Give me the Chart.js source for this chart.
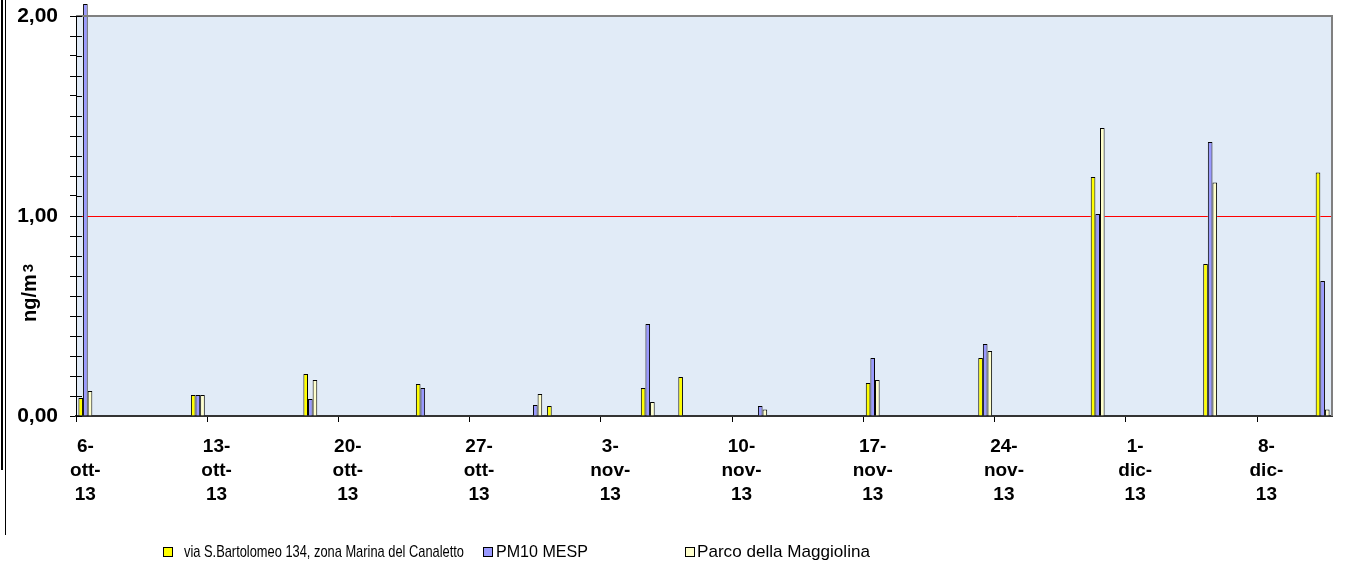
<!DOCTYPE html>
<html>
<head>
<meta charset="utf-8">
<script src="https://cdn.jsdelivr.net/npm/chart.js@4/dist/chart.umd.min.js"></script>
<style>
  html, body { margin: 0; padding: 0; background: #fff; }
  #wrap { position: relative; width: 1364px; height: 561px; overflow: hidden; font-family: "Liberation Sans", Arial, sans-serif; }
  #frameA { position: absolute; left: 1px; top: 0; width: 2px; height: 470px; background: #000; }
  #frameB { position: absolute; left: 5px; top: 0; width: 1px; height: 535px; background: #000; }
  .box { position: absolute; top: 547px; width: 8px; height: 8px; border: 1px solid #000; }
  .txt { position: absolute; top: 542px; font-size: 17px; line-height: 20px; color: #000; white-space: nowrap; transform-origin: 0 50%; }
</style>
</head>
<body>
<div id="wrap">
  <canvas id="c" width="1364" height="561"></canvas>
  <div id="frameA"></div>
  <div id="frameB"></div>
  <div id="legend"></div>
</div>
<script>
// Daily categories of the date axis (6 Oct – 11 Dec 2013)
const categories = [
  '6-ott-13','7-ott-13','8-ott-13','9-ott-13','10-ott-13','11-ott-13','12-ott-13',
  '13-ott-13','14-ott-13','15-ott-13','16-ott-13','17-ott-13','18-ott-13','19-ott-13',
  '20-ott-13','21-ott-13','22-ott-13','23-ott-13','24-ott-13','25-ott-13','26-ott-13',
  '27-ott-13','28-ott-13','29-ott-13','30-ott-13','31-ott-13','1-nov-13','2-nov-13',
  '3-nov-13','4-nov-13','5-nov-13','6-nov-13','7-nov-13','8-nov-13','9-nov-13',
  '10-nov-13','11-nov-13','12-nov-13','13-nov-13','14-nov-13','15-nov-13','16-nov-13',
  '17-nov-13','18-nov-13','19-nov-13','20-nov-13','21-nov-13','22-nov-13','23-nov-13',
  '24-nov-13','25-nov-13','26-nov-13','27-nov-13','28-nov-13','29-nov-13','30-nov-13',
  '1-dic-13','2-dic-13','3-dic-13','4-dic-13','5-dic-13','6-dic-13','7-dic-13',
  '8-dic-13','9-dic-13','10-dic-13','11-dic-13'
];

// Sampling days and measured concentrations (ng/m3); null = no sample
const sampleDates = ['6-ott-13','12-ott-13','18-ott-13','24-ott-13','30-ott-13','31-ott-13','5-nov-13',
                     '7-nov-13','11-nov-13','17-nov-13','23-nov-13','29-nov-13','5-dic-13','11-dic-13'];
const viaBartolomeo   = [0.09, 0.105, 0.21, 0.16, null, 0.05, 0.14, 0.195, null, 0.165, 0.29, 1.195, 0.76, 1.217];
const pm10Mesp        = [2.06, 0.105, 0.085, 0.14, 0.055, null, 0.46, null, 0.05, 0.29, 0.36, 1.01, 1.37, 0.675];
const parcoMaggiolina = [0.125, 0.105, 0.18, null, 0.11, null, 0.07, null, 0.033, 0.18, 0.325, 1.44, 1.167, 0.033];

const seriesNames  = ['via S.Bartolomeo 134, zona Marina del Canaletto', 'PM10 MESP', 'Parco della Maggiolina'];
const seriesColors = ['#FFFF00', '#9999FF', '#FFFFCC'];

// Target value (ng/m3) shown as the red reference line
const targetValue = 1.0;
const yTickValues = [0, 1, 2];

const FONT = '"Liberation Sans", Arial, sans-serif';

function toPoints(values) {
  return sampleDates.map((d, i) => ({ x: d, y: values[i] }));
}

const datasets = [viaBartolomeo, pm10Mesp, parcoMaggiolina].map((vals, k) => ({
  label: seriesNames[k],
  data: toPoints(vals),
  backgroundColor: seriesColors[k],
  borderColor: '#000',
  borderWidth: 1,
  borderSkipped: 'bottom',
  categoryPercentage: 0.74,
  barPercentage: 1.0,
  clip: false
}));

const plotDecor = {
  id: 'plotDecor',
  beforeDraw(chart) {
    const { ctx, chartArea: a } = chart;
    ctx.save();
    ctx.fillStyle = '#e1ebf7';
    ctx.fillRect(a.left, a.top, a.right - a.left, a.bottom - a.top);
    ctx.restore();
  },
  afterDatasetsDraw(chart) {
    // reference line, kept behind the bars by clipping them out
    const { ctx, chartArea: a, scales } = chart;
    const y = Math.round(scales.y.getPixelForValue(targetValue));
    ctx.save();
    ctx.beginPath();
    ctx.rect(a.left, a.top, a.right - a.left, a.bottom - a.top);
    chart.data.datasets.forEach((ds, i) => {
      chart.getDatasetMeta(i).data.forEach(bar => {
        if (bar.skip || bar.y === undefined || isNaN(bar.y)) return;
        const top = Math.min(bar.y, bar.base);
        const h = Math.abs(bar.base - bar.y);
        if (h > 0) ctx.rect(bar.x - bar.width / 2, top, bar.width, h);
      });
    });
    ctx.clip('evenodd');
    ctx.strokeStyle = '#ff0000';
    ctx.lineWidth = 1;
    ctx.beginPath();
    ctx.moveTo(a.left + 1, y + 0.5);
    ctx.lineTo(a.right - 1, y + 0.5);
    ctx.stroke();
    ctx.restore();
  },
  afterDraw(chart) {
    const { ctx, chartArea: a, scales } = chart;
    ctx.save();
    // top and right frame of the plot area
    ctx.strokeStyle = '#808080';
    ctx.lineWidth = 2;
    ctx.beginPath();
    ctx.moveTo(a.left, a.top);
    ctx.lineTo(a.right, a.top);
    ctx.lineTo(a.right, a.bottom);
    ctx.stroke();
    // inner half of the y-axis tick marks (cross style)
    ctx.fillStyle = '#000';
    scales.y.ticks.forEach(t => {
      const py = Math.round(scales.y.getPixelForValue(t.value));
      ctx.fillRect(a.left, py, 6, 1);
    });
    // axis title: ng/m with superscript 3
    ctx.translate(36, 322);
    ctx.rotate(-Math.PI / 2);
    ctx.fillStyle = '#000';
    ctx.textAlign = 'left';
    ctx.textBaseline = 'alphabetic';
    ctx.font = 'bold 20px ' + FONT;
    ctx.fillText('ng/m', 0, 0);
    const w = ctx.measureText('ng/m').width;
    ctx.font = 'bold 15px ' + FONT;
    ctx.fillText('3', w + 2, -3);
    ctx.restore();
  }
};

const chart = new Chart(document.getElementById('c'), {
  type: 'bar',
  data: { labels: categories, datasets },
  plugins: [plotDecor],
  options: {
    responsive: false,
    animation: false,
    devicePixelRatio: 1,
    layout: { padding: { left: 0, top: 16, right: 32, bottom: 0 } },
    plugins: { legend: { display: false }, tooltip: { enabled: false } },
    scales: {
      x: {
        type: 'category',
        offset: true,
        afterFit(scale) {
          scale.height = 145;
          scale.paddingLeft = 0;
          scale.paddingRight = 0;
        },
        grid: {
          offset: true,
          drawOnChartArea: false,
          tickLength: 6,
          tickWidth: 1,
          color: ctx => (ctx.index !== undefined && ctx.index % 7 === 0) ? '#000' : 'rgba(0,0,0,0)'
        },
        border: { color: '#333', width: 2 },
        ticks: {
          autoSkip: false,
          maxRotation: 0,
          minRotation: 0,
          padding: 13,
          color: '#000',
          font: { family: FONT, size: 19, weight: 'bold', lineHeight: 1.26 },
          callback(value, index) {
            if (index % 7 !== 0) return '';
            const p = categories[index].split('-');
            return [p[0] + '-', p[1] + '-', p[2]];
          }
        }
      },
      y: {
        min: 0,
        max: 2,
        afterFit(scale) {
          scale.width = 76;
          scale.paddingTop = 0;
          scale.paddingBottom = 0;
        },
        grid: { drawOnChartArea: false, tickLength: 6, color: '#000' },
        border: { color: '#000', width: 1 },
        ticks: {
          stepSize: 0.1,
          autoSkip: false,
          maxTicksLimit: 50,
          padding: 12,
          color: '#000',
          font: { family: FONT, size: 21, weight: 'bold' },
          callback(value) {
            const hit = yTickValues.find(v => Math.abs(v - value) < 1e-6);
            return hit === undefined ? '' : hit.toFixed(2).replace('.', ',');
          }
        }
      }
    }
  }
});

// Legend built from the chart's own datasets
const legendPos = [
  { box: 163, text: 184, width: 280 },
  { box: 483, text: 496, width: 92 },
  { box: 685, text: 697, width: 173 }
];
const legendEl = document.getElementById('legend');
chart.data.datasets.forEach((ds, i) => {
  const b = document.createElement('div');
  b.className = 'box';
  b.style.left = legendPos[i].box + 'px';
  b.style.background = ds.backgroundColor;
  legendEl.appendChild(b);
  const t = document.createElement('div');
  t.className = 'txt';
  t.style.left = legendPos[i].text + 'px';
  t.textContent = ds.label;
  legendEl.appendChild(t);
  const natural = t.getBoundingClientRect().width;
  if (natural > 0) t.style.transform = 'scaleX(' + (legendPos[i].width / natural).toFixed(4) + ')';
});
</script>
</body>
</html>
